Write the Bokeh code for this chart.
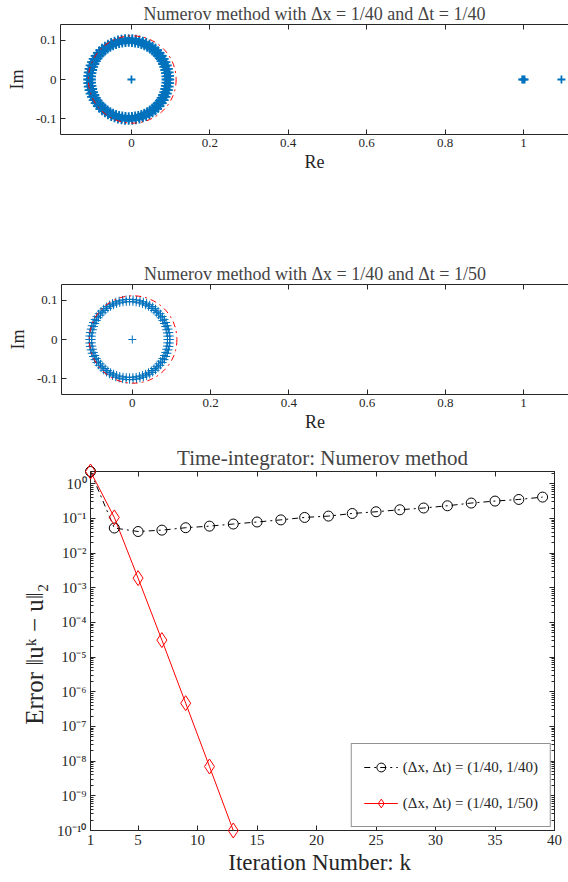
import math
from bokeh.plotting import figure
from bokeh.models import (Range1d, FixedTicker, LinearAxis, LogAxis, CustomJSTickFormatter,
                          Legend, LegendItem)
from bokeh.embed import file_html
from bokeh.resources import INLINE

# ---------------- data ----------------
# eigenvalue ring (polar description)
ring_angles_deg = [0, 5, 10, 15, 20, 25, 30, 35, 40, 45, 50, 55, 60, 65, 70, 75, 80, 85,
                   90, 95, 100, 105, 110, 115, 120, 125, 130, 135, 140, 145, 150, 155, 160, 165, 170, 175,
                   180, 185, 190, 195, 200, 205, 210, 215, 220, 225, 230, 235, 240, 245, 250, 255, 260, 265,
                   270, 275, 280, 285, 290, 295, 300, 305, 310, 315, 320, 325, 330, 335, 340, 345, 350, 355]
ring_center_re = -0.007
ring_radii_1 = [0.094, 0.098, 0.102, 0.106]
ring_radii_2 = [0.097, 0.103]
extra_re_1 = [0.0, 0.997, 1.0, 1.003, 1.097]
extra_im_1 = [0.0, 0.0, 0.0, 0.0, 0.0]
extra_re_2 = [0.0]
extra_im_2 = [0.0]
ref_circle_center = 0.002
ref_circle_radius = 0.112

re_ticks = [0, 0.2, 0.4, 0.6, 0.8, 1.0]
re_tick_labels = ["0", "0.2", "0.4", "0.6", "0.8", "1"]
im_ticks = [-0.1, 0, 0.1]
im_tick_labels = ["-0.1", "0", "0.1"]

k_black = [1, 3, 5, 7, 9, 11, 13, 15, 17, 19, 21, 23, 25, 27, 29, 31, 33, 35, 37, 39]
err_black = [2.26, 0.053, 0.042, 0.046, 0.054, 0.060, 0.069, 0.079, 0.091, 0.107,
             0.117, 0.139, 0.156, 0.178, 0.200, 0.232, 0.278, 0.317, 0.353, 0.413]
k_red = [1, 3, 5, 7, 9, 11, 13]
err_red = [2.26, 0.107, 1.9e-3, 3.1e-5, 4.7e-7, 7.0e-9, 1.0e-10]

k_ticks = [1, 5, 10, 15, 20, 25, 30, 35, 40]
err_decades = [-10, -9, -8, -7, -6, -5, -4, -3, -2, -1, 0]

label_black = "(Δx, Δt) = (1/40, 1/40)"
label_red = "(Δx, Δt) = (1/40, 1/50)"
title1 = "Numerov method with Δx = 1/40 and Δt = 1/40"
title2 = "Numerov method with Δx = 1/40 and Δt = 1/50"
title3 = "Time-integrator: Numerov method"

BLUE = "#0072BD"
AX = "#262626"
SERIF = "Liberation Serif"
blank = CustomJSTickFormatter(code="return '';")


def ring_points(radii):
    xs, ys = [], []
    for r in radii:
        for a in ring_angles_deg:
            t = math.radians(a)
            xs.append(ring_center_re + r * math.cos(t))
            ys.append(r * math.sin(t))
    return xs, ys


def style_axis(ax, size="13px"):
    ax.axis_line_color = AX
    ax.major_tick_line_color = AX
    ax.minor_tick_line_color = AX
    ax.major_tick_in = 5
    ax.major_tick_out = 0
    ax.minor_tick_in = 3
    ax.minor_tick_out = 0
    ax.major_label_standoff = 4
    ax.major_label_text_font = SERIF
    ax.major_label_text_font_size = size
    ax.major_label_text_color = AX
    ax.axis_label_text_font = SERIF
    ax.axis_label_text_font_style = "normal"
    ax.axis_label_text_color = AX


def eig_fig(title, radii, ex_re, ex_im, height, top, bottom, left, lw):
    p = figure(width=568, height=height, output_backend="svg", toolbar_location=None,
               x_range=Range1d(-0.181, 1.115), y_range=Range1d(-0.141, 0.141),
               min_border_top=top, min_border_bottom=bottom, min_border_left=left,
               min_border_right=0, title=title)
    p.grid.visible = False
    p.outline_line_color = None
    p.title.text_font = SERIF
    p.title.text_font_size = "18px"
    p.title.text_font_style = "normal"
    p.title.align = "center"
    p.title.standoff = 2
    p.title.offset = -18
    p.xaxis.ticker = FixedTicker(ticks=re_ticks)
    p.xaxis.major_label_overrides = dict(zip(re_ticks, re_tick_labels))
    p.yaxis.ticker = FixedTicker(ticks=im_ticks)
    p.yaxis.major_label_overrides = dict(zip(im_ticks, im_tick_labels))
    p.xaxis.axis_label = "Re"
    p.yaxis.axis_label = "Im"
    for ax in p.xaxis + p.yaxis:
        style_axis(ax)
        ax.axis_label_text_font_size = "18px"
    p.xaxis.axis_label_standoff = 2
    p.yaxis.axis_label_standoff = 6
    top_ax = LinearAxis(ticker=FixedTicker(ticks=re_ticks), formatter=blank)
    style_axis(top_ax)
    p.add_layout(top_ax, "above")
    xs, ys = ring_points(radii)
    p.scatter(xs + ex_re, ys + ex_im, marker="cross", size=8, line_color=BLUE, line_width=lw)
    p.ellipse(x=[ref_circle_center], y=[0], width=[2 * ref_circle_radius], height=[2 * ref_circle_radius],
              fill_color=None, line_color="red", line_dash="dashdot", line_width=1)
    return p


p1 = eig_fig(title1, ring_radii_1, extra_re_1, extra_im_1, 258, 24, 124, 60, 1.8)
p2 = eig_fig(title2, ring_radii_2, extra_re_2, extra_im_2, 182, 26, 46, 61, 1.0)

# ---------------- convergence plot ----------------
p3 = figure(width=568, height=442, output_backend="svg", toolbar_location=None,
            y_axis_type="log", x_range=Range1d(1, 40), y_range=Range1d(1e-10, 2.26),
            min_border_top=31, min_border_bottom=52, min_border_left=90, min_border_right=14,
            title=title3)
p3.grid.visible = False
p3.outline_line_color = AX
p3.title.text_font = SERIF
p3.title.text_font_size = "21px"
p3.title.text_font_style = "normal"
p3.title.align = "center"
p3.title.standoff = 4

minor = []
for d in err_decades[:-1]:
    for m in range(2, 10):
        minor.append(m * 10.0 ** d)
minor += [2.0]
yt = [10.0 ** d for d in err_decades]
sup_fmt = CustomJSTickFormatter(code="""
const sup = {'-':'\u207b','0':'\u2070','1':'\u00b9','2':'\u00b2','3':'\u00b3','4':'\u2074',
             '5':'\u2075','6':'\u2076','7':'\u2077','8':'\u2078','9':'\u2079'};
const e = Math.round(Math.log10(tick));
return '10' + String(e).split('').map(c => sup[c]).join('');
""")
p3.yaxis.ticker = FixedTicker(ticks=yt, minor_ticks=minor)
p3.yaxis.formatter = sup_fmt
p3.xaxis.ticker = FixedTicker(ticks=k_ticks)
p3.xaxis.axis_label = "Iteration Number:  k"
p3.yaxis.axis_label = "Error  ‖uᵏ − u‖₂"
for ax in p3.xaxis + p3.yaxis:
    style_axis(ax, "15px")
p3.xaxis.axis_label_text_font_size = "23px"
p3.yaxis.axis_label_text_font_size = "25px"
p3.xaxis.axis_label_standoff = 2
p3.yaxis.axis_label_standoff = 6
top3 = LinearAxis(ticker=FixedTicker(ticks=k_ticks), formatter=blank)
style_axis(top3)
p3.add_layout(top3, "above")
right3 = LogAxis(ticker=FixedTicker(ticks=yt, minor_ticks=minor), formatter=blank)
style_axis(right3)
p3.add_layout(right3, "right")

lb = p3.line(k_black, err_black, line_color="black", line_dash="dashdot", line_width=1)
sb = p3.scatter(k_black, err_black, marker="circle", size=10, fill_color=None,
                line_color="black", line_width=1)
lr = p3.line(k_red, err_red, line_color="red", line_width=1)
sr = p3.scatter(k_red, err_red, marker="diamond", size=15, fill_color=None,
                line_color="red", line_width=1)
sb.level = "overlay"
sr.level = "overlay"

legend = Legend(items=[LegendItem(label=label_black, renderers=[lb, sb]),
                       LegendItem(label=label_red, renderers=[lr, sr])],
                location="bottom_right")
legend.label_text_font = SERIF
legend.label_text_font_size = "15px"
legend.label_text_color = AX
legend.border_line_color = AX
legend.border_line_width = 1
legend.background_fill_alpha = 1
legend.glyph_width = 34
legend.glyph_height = 22
legend.label_height = 22
legend.spacing = 14
legend.padding = 12
legend.margin = 3
p3.add_layout(legend)

open("out.html", "w").write(file_html([p1, p2, p3], INLINE))
